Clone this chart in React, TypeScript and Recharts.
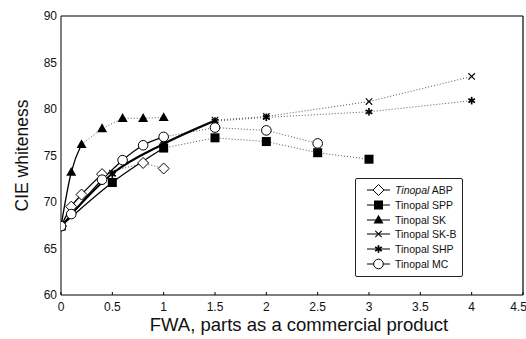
import { LineChart, Line, XAxis, YAxis, Legend, ReferenceLine } from "recharts"

// CIE whiteness vs FWA dose
const abpX = [0, 0.1, 0.2, 0.4, 0.8, 1.0]
const abpY = [67.4, 69.5, 70.8, 73.0, 74.2, 73.6]

const sppX = [0, 0.5, 1.0, 1.5, 2.0, 2.5, 3.0]
const sppY = [67.4, 72.1, 75.8, 76.9, 76.5, 75.3, 74.6]

const skX = [0, 0.1, 0.2, 0.4, 0.6, 0.8, 1.0]
const skY = [67.4, 73.2, 76.2, 77.9, 79.0, 79.0, 79.1]

const skbX = [0, 0.5, 1.0, 1.5, 2.0, 3.0, 4.0]
const skbY = [67.4, 73.1, 76.3, 78.8, 79.2, 80.8, 83.5]

const shpX = [0, 0.5, 1.0, 1.5, 2.0, 3.0, 4.0]
const shpY = [67.4, 73.0, 76.2, 78.7, 79.1, 79.7, 80.9]

const mcX = [0, 0.1, 0.4, 0.6, 0.8, 1.0, 1.5, 2.0, 2.5]
const mcY = [67.4, 68.7, 72.4, 74.5, 76.1, 77.0, 78.0, 77.7, 76.3]

const xTicks = [0, 0.5, 1, 1.5, 2, 2.5, 3, 3.5, 4, 4.5]
const yTicks = [60, 65, 70, 75, 80, 85, 90]

type Shape = "diamond" | "square" | "triangle" | "cross" | "star" | "circle"

interface Series {
  id: string
  brand: string
  product: string
  xs: number[]
  ys: number[]
  solidTo: number // last index joined by the solid curve
  shape: Shape
  italic?: boolean
}

const series: Series[] = [
  { id: "abp", brand: "Tinopal", product: "ABP", xs: abpX, ys: abpY, solidTo: 3, shape: "diamond", italic: true },
  { id: "spp", brand: "Tinopal", product: "SPP", xs: sppX, ys: sppY, solidTo: 2, shape: "square" },
  { id: "sk", brand: "Tinopal", product: "SK", xs: skX, ys: skY, solidTo: 2, shape: "triangle" },
  { id: "skb", brand: "Tinopal", product: "SK-B", xs: skbX, ys: skbY, solidTo: 3, shape: "cross" },
  { id: "shp", brand: "Tinopal", product: "SHP", xs: shpX, ys: shpY, solidTo: 3, shape: "star" },
  { id: "mc", brand: "Tinopal", product: "MC", xs: mcX, ys: mcY, solidTo: 5, shape: "circle" },
]

const toPoints = (xs: number[], ys: number[]) => xs.map((x, i) => ({ x, y: ys[i] }))

function Marker({ shape, cx, cy }: { shape: Shape; cx: number; cy: number }) {
  switch (shape) {
    case "diamond": {
      const r = 5.5
      return (
        <polygon
          points={`${cx},${cy - r} ${cx + r},${cy} ${cx},${cy + r} ${cx - r},${cy}`}
          fill="#fff"
          stroke="#000"
          strokeWidth={1}
        />
      )
    }
    case "square":
      return <rect x={cx - 4.5} y={cy - 4.5} width={9} height={9} fill="#000" />
    case "triangle":
      return <polygon points={`${cx},${cy - 5.2} ${cx + 5},${cy + 3.6} ${cx - 5},${cy + 3.6}`} fill="#000" />
    case "cross": {
      const r = 3.2
      return (
        <g stroke="#000" strokeWidth={1.1}>
          <line x1={cx - r} y1={cy - r} x2={cx + r} y2={cy + r} />
          <line x1={cx - r} y1={cy + r} x2={cx + r} y2={cy - r} />
        </g>
      )
    }
    case "star": {
      const r = 3.8
      return (
        <g stroke="#000" strokeWidth={1.7}>
          <line x1={cx} y1={cy - r} x2={cx} y2={cy + r} />
          <line x1={cx - r * 0.87} y1={cy - r / 2} x2={cx + r * 0.87} y2={cy + r / 2} />
          <line x1={cx - r * 0.87} y1={cy + r / 2} x2={cx + r * 0.87} y2={cy - r / 2} />
        </g>
      )
    }
    default:
      return <circle cx={cx} cy={cy} r={4.8} fill="#fff" stroke="#000" strokeWidth={1} />
  }
}

const fontFamily = "Arial, 'Liberation Sans', Helvetica, sans-serif"

function LegendBox() {
  return (
    <div
      style={{
        border: "1px solid #222",
        borderRadius: 2,
        background: "#fff",
        width: 108,
        height: 99,
        boxSizing: "border-box",
        paddingTop: 4,
        fontFamily,
        fontSize: 10.5,
        color: "#111",
      }}
    >
      {series.map((s) => (
        <div key={s.id} style={{ display: "flex", alignItems: "center", height: 14.7 }}>
          <svg width={38} height={14} style={{ flex: "none" }}>
            <line x1={11} y1={7} x2={34} y2={7} stroke="#000" strokeWidth={1} />
            <Marker shape={s.shape} cx={22.5} cy={7} />
          </svg>
          <span style={{ marginLeft: 1, whiteSpace: "nowrap" }}>
            <span style={{ fontStyle: s.italic ? "italic" : "normal" }}>{s.brand}</span> {s.product}
          </span>
        </div>
      ))}
    </div>
  )
}

export default function App() {
  return (
    <div style={{ position: "absolute", left: 0, top: 0, background: "#fff" }}>
      <LineChart width={526} height={339} margin={{ top: 16, right: 3, bottom: 14, left: 21 }}>
        <XAxis
          dataKey="x"
          type="number"
          domain={[0, 4.5]}
          ticks={xTicks}
          allowDataOverflow
          height={30}
          stroke="#000"
          tickSize={-3}
          tickMargin={10}
          tick={{ fontSize: 12, fill: "#111", fontFamily }}
          label={{
            value: "FWA, parts as a commercial product",
            position: "insideBottom",
            offset: -6,
            dx: 7,
            fontSize: 18.5,
            fill: "#111",
            fontFamily,
          }}
        />
        <YAxis
          dataKey="y"
          type="number"
          domain={[60, 90]}
          ticks={yTicks}
          allowDataOverflow
          width={40}
          stroke="#000"
          tickLine={false}
          tickSize={2}
          tickMargin={2}
          tick={{ fontSize: 12, fill: "#111", fontFamily }}
          label={{
            value: "CIE whiteness",
            angle: -90,
            position: "center",
            dx: -19,
            fontSize: 17.5,
            fill: "#111",
            fontFamily,
          }}
        />
        {/* plot frame: top and right edges */}
        <ReferenceLine y={90} stroke="#000" strokeWidth={1} />
        <ReferenceLine x={4.5} stroke="#000" strokeWidth={1.2} />

        {series.map((s) => (
          <Line
            key={s.id + "-dot"}
            data={toPoints(s.xs.slice(s.solidTo), s.ys.slice(s.solidTo))}
            dataKey="y"
            type="linear"
            stroke="#444"
            strokeWidth={0.9}
            strokeDasharray="1 2"
            dot={false}
            legendType="none"
            isAnimationActive={false}
          />
        ))}
        {series.map((s) => (
          <Line
            key={s.id + "-solid"}
            data={toPoints(s.xs.slice(0, s.solidTo + 1), s.ys.slice(0, s.solidTo + 1))}
            dataKey="y"
            type="monotone"
            stroke="#000"
            strokeWidth={1.3}
            dot={false}
            legendType="none"
            isAnimationActive={false}
          />
        ))}
        {series.map((s) => (
          <Line
            key={s.id + "-marks"}
            data={toPoints(s.xs, s.ys)}
            dataKey="y"
            name={`${s.brand} ${s.product}`}
            stroke="none"
            activeDot={false}
            dot={(p: any) => <Marker key={`${s.id}-${p.index}`} shape={s.shape} cx={p.cx} cy={p.cy} />}
            isAnimationActive={false}
          />
        ))}

        <Legend
          layout="vertical"
          align="center"
          verticalAlign="middle"
          wrapperStyle={{ left: 355, top: 178, width: 108, height: 99 }}
          content={() => <LegendBox />}
        />
      </LineChart>
    </div>
  )
}
